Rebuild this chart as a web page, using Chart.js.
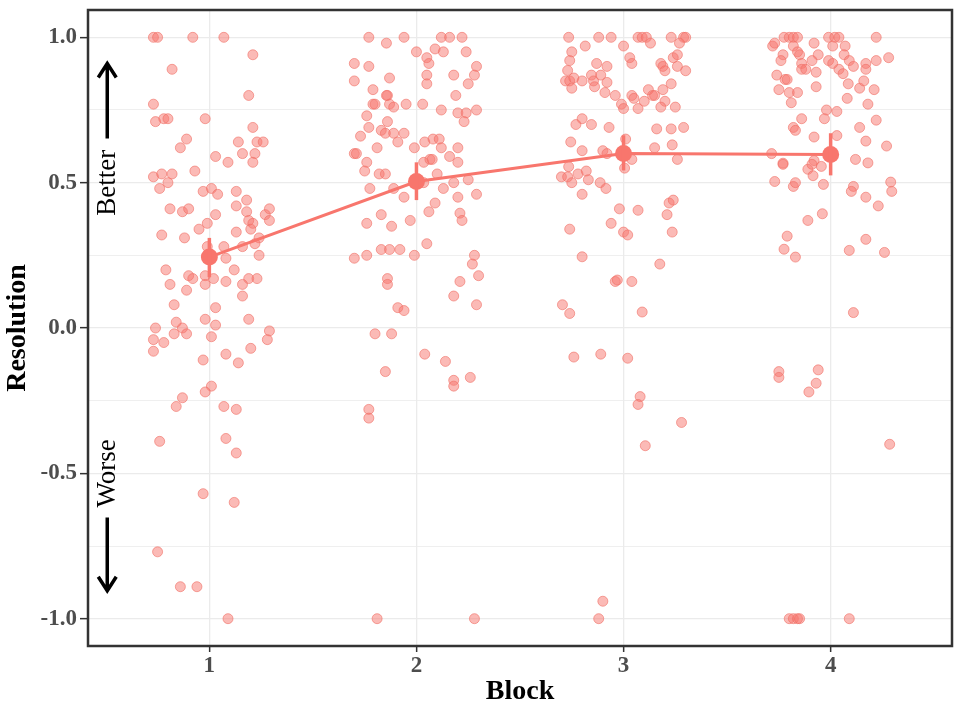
<!DOCTYPE html>
<html>
<head>
<meta charset="utf-8">
<script src="https://cdn.jsdelivr.net/npm/chart.js@4/dist/chart.umd.min.js"></script>
<style>
  body { margin: 0; background: #fff; }
  #wrap { width: 965px; height: 707px; }
</style>
</head>
<body>
<div id="wrap"><canvas id="grafico"></canvas></div>
<script>
// summary per block
let blocks   = [1, 2, 3, 4];
let means    = [0.244, 0.504, 0.600, 0.597];
let lowerCI  = [0.175, 0.440, 0.542, 0.525];
let upperCI  = [0.310, 0.570, 0.663, 0.670];

let xTicks = [1, 2, 3, 4];
let yTicks = [-1, -0.75, -0.5, -0.25, 0, 0.25, 0.5, 0.75, 1];

// jittered raw responses, [x, y]
let block1 = [[0.73,1.0],[0.75,1.0],[0.92,1.0],[1.07,1.0],[1.21,0.94],[0.82,0.89],[1.19,0.80],[0.73,0.77],[0.74,0.71],[0.78,0.72],[0.80,0.72],[0.98,0.72],[1.21,0.69],[0.89,0.65],[0.86,0.62],[1.14,0.64],[1.23,0.64],[1.26,0.64],[1.03,0.59],[1.09,0.57],[1.16,0.60],[1.22,0.60],[1.21,0.57],[0.93,0.54],[0.73,0.52],[0.77,0.53],[0.82,0.53],[0.76,0.48],[0.80,0.50],[0.97,0.47],[1.01,0.48],[1.04,0.46],[1.13,0.47],[1.18,0.44],[0.81,0.41],[0.87,0.40],[0.90,0.41],[1.03,0.39],[1.13,0.42],[1.18,0.40],[1.19,0.37],[1.21,0.36],[1.27,0.39],[1.29,0.41],[1.29,0.37],[1.20,0.34],[0.77,0.32],[0.88,0.31],[0.95,0.34],[0.99,0.36],[1.13,0.33],[1.24,0.31],[0.99,0.28],[1.07,0.28],[1.16,0.28],[1.22,0.29],[1.24,0.25],[1.08,0.24],[0.79,0.20],[1.12,0.20],[0.90,0.18],[0.92,0.17],[0.98,0.18],[0.98,0.15],[1.02,0.17],[0.81,0.15],[1.08,0.16],[1.16,0.15],[1.19,0.17],[1.23,0.17],[0.89,0.13],[1.16,0.11],[0.83,0.08],[1.03,0.07],[0.98,0.03],[1.19,0.03],[0.74,0.00],[0.84,0.02],[0.87,0.00],[0.89,-0.02],[1.03,0.01],[0.83,-0.02],[1.29,-0.01],[1.28,-0.04],[0.73,-0.04],[0.78,-0.05],[1.01,-0.03],[0.73,-0.08],[0.97,-0.11],[1.08,-0.09],[1.14,-0.12],[1.20,-0.07],[1.01,-0.20],[0.98,-0.22],[0.87,-0.24],[0.84,-0.27],[1.07,-0.27],[1.13,-0.28],[0.76,-0.39],[1.08,-0.38],[1.13,-0.43],[0.97,-0.57],[1.12,-0.60],[0.75,-0.77],[0.86,-0.89],[0.94,-0.89],[1.09,-1.0]];

let block2 = [[1.77,1.0],[1.855,0.98],[1.94,1.0],[2.12,1.0],[2.16,1.0],[2.22,1.0],[2.00,0.95],[2.09,0.96],[2.13,0.95],[2.05,0.93],[2.06,0.91],[2.24,0.95],[1.70,0.91],[1.77,0.90],[2.29,0.90],[1.70,0.85],[1.87,0.86],[2.05,0.87],[2.05,0.84],[2.18,0.87],[2.28,0.87],[2.25,0.84],[1.79,0.82],[1.86,0.80],[1.855,0.80],[1.87,0.77],[1.79,0.77],[1.80,0.77],[1.89,0.76],[1.95,0.77],[2.03,0.77],[2.19,0.80],[2.12,0.75],[2.20,0.74],[2.24,0.74],[2.23,0.71],[2.29,0.75],[1.76,0.73],[1.86,0.71],[1.77,0.69],[1.83,0.68],[1.85,0.67],[1.89,0.67],[1.94,0.67],[1.91,0.64],[1.73,0.66],[1.81,0.62],[1.99,0.62],[2.04,0.64],[2.08,0.65],[2.11,0.65],[2.12,0.62],[2.20,0.62],[1.70,0.60],[1.71,0.60],[2.16,0.59],[2.20,0.57],[1.76,0.57],[1.75,0.54],[1.82,0.53],[1.85,0.53],[2.035,0.57],[2.065,0.58],[2.076,0.58],[2.10,0.53],[2.18,0.50],[2.25,0.51],[1.775,0.48],[1.89,0.48],[1.94,0.45],[2.035,0.50],[2.13,0.48],[2.20,0.45],[2.29,0.46],[2.09,0.43],[2.06,0.40],[1.83,0.39],[2.21,0.395],[2.22,0.37],[1.76,0.36],[1.88,0.35],[1.97,0.37],[2.05,0.29],[1.70,0.24],[1.76,0.25],[1.83,0.27],[1.87,0.27],[1.92,0.27],[1.99,0.25],[2.28,0.25],[2.27,0.22],[2.30,0.18],[1.86,0.17],[1.86,0.15],[2.21,0.16],[2.18,0.11],[2.29,0.08],[1.91,0.07],[1.94,0.06],[1.80,-0.02],[1.88,-0.02],[2.04,-0.09],[2.14,-0.115],[1.85,-0.15],[2.18,-0.18],[2.18,-0.20],[2.26,-0.17],[1.77,-0.28],[1.77,-0.31],[1.81,-1.0],[2.28,-1.0]];

let block3 = [[2.735,1.0],[2.88,1.0],[2.94,1.0],[3.07,1.0],[3.09,1.0],[3.11,1.0],[3.23,1.0],[3.29,1.0],[3.30,1.0],[2.815,0.97],[3.00,0.97],[3.13,0.98],[3.27,0.98],[2.75,0.95],[2.74,0.92],[3.03,0.93],[3.04,0.91],[3.18,0.91],[3.24,0.93],[3.26,0.94],[2.87,0.91],[2.92,0.90],[3.19,0.90],[3.20,0.885],[3.26,0.90],[3.30,0.885],[2.73,0.886],[2.72,0.85],[2.74,0.85],[2.76,0.86],[2.80,0.85],[2.845,0.87],[2.855,0.85],[2.89,0.87],[2.75,0.825],[2.86,0.83],[2.92,0.845],[3.23,0.84],[3.19,0.82],[2.91,0.81],[2.96,0.80],[3.04,0.80],[3.05,0.79],[3.12,0.82],[3.14,0.80],[3.15,0.80],[3.10,0.78],[3.20,0.78],[3.18,0.76],[2.99,0.77],[3.00,0.755],[3.07,0.755],[3.25,0.76],[2.77,0.70],[2.80,0.72],[2.845,0.70],[2.93,0.69],[3.16,0.685],[3.23,0.685],[3.29,0.69],[2.745,0.64],[2.80,0.61],[2.90,0.61],[2.92,0.60],[3.01,0.65],[3.04,0.58],[3.15,0.62],[3.235,0.63],[3.26,0.58],[3.005,0.55],[2.735,0.555],[2.70,0.52],[2.73,0.52],[2.78,0.53],[2.82,0.54],[2.83,0.51],[2.75,0.50],[2.887,0.50],[2.915,0.48],[2.80,0.46],[2.98,0.41],[3.07,0.405],[3.22,0.43],[3.24,0.44],[3.21,0.39],[2.94,0.36],[2.74,0.34],[3.00,0.33],[3.02,0.32],[3.235,0.33],[2.80,0.245],[3.175,0.22],[2.96,0.16],[2.97,0.165],[3.04,0.16],[2.705,0.08],[2.74,0.05],[3.09,0.055],[2.76,-0.10],[2.89,-0.09],[3.02,-0.104],[3.08,-0.236],[3.07,-0.263],[3.28,-0.325],[3.105,-0.405],[2.90,-0.94],[2.88,-1.0]];

let block4 = [[3.72,0.97],[3.73,0.98],[3.775,1.0],[3.80,1.0],[3.82,1.0],[3.84,1.0],[3.99,1.0],[4.02,1.0],[4.04,1.0],[4.22,1.0],[3.82,0.97],[3.92,0.98],[4.01,0.97],[4.07,0.97],[3.77,0.94],[3.76,0.92],[3.84,0.95],[3.85,0.94],[3.94,0.94],[4.065,0.94],[4.28,0.93],[3.86,0.91],[3.91,0.92],[3.99,0.92],[4.01,0.91],[4.09,0.92],[4.11,0.90],[4.17,0.91],[4.22,0.92],[3.86,0.89],[3.88,0.89],[3.93,0.88],[4.04,0.89],[4.06,0.875],[4.17,0.89],[3.74,0.87],[3.78,0.855],[3.79,0.855],[3.75,0.82],[3.80,0.81],[3.84,0.81],[3.81,0.775],[3.93,0.83],[4.085,0.84],[4.14,0.825],[4.16,0.85],[4.21,0.82],[4.08,0.79],[4.18,0.77],[3.98,0.75],[4.03,0.745],[3.97,0.72],[3.86,0.72],[3.82,0.69],[3.83,0.68],[4.22,0.715],[4.14,0.69],[3.92,0.657],[4.03,0.662],[4.17,0.643],[4.27,0.626],[3.715,0.60],[3.77,0.567],[3.77,0.563],[3.92,0.576],[4.12,0.58],[4.18,0.568],[3.89,0.546],[3.955,0.556],[3.91,0.563],[3.915,0.524],[3.73,0.504],[3.82,0.487],[3.83,0.50],[3.965,0.494],[4.11,0.487],[4.10,0.47],[4.29,0.502],[4.295,0.47],[4.17,0.45],[4.23,0.42],[3.96,0.393],[3.89,0.37],[3.79,0.316],[3.775,0.271],[3.83,0.244],[4.17,0.305],[4.09,0.267],[4.26,0.26],[4.11,0.053],[3.75,-0.15],[3.75,-0.17],[3.94,-0.144],[3.93,-0.19],[3.895,-0.22],[4.285,-0.40],[3.80,-1.0],[3.82,-1.0],[3.84,-1.0],[3.85,-1.0],[4.09,-1.0]];

let salmao = '#F8766D';
let serif = "'Liberation Serif', 'DejaVu Serif', serif";

let toXY = arr => arr.map(p => ({ x: p[0], y: p[1] }));
let ehMaior = v => Math.abs(v * 2 - Math.round(v * 2)) < 1e-9;

// error bars through the scales
let barrasErro = {
  id: 'barrasErro',
  afterDatasetsDraw(chart) {
    let { ctx, scales: { x, y } } = chart;
    ctx.save();
    ctx.strokeStyle = salmao;
    ctx.lineWidth = 3.5;
    blocks.forEach((b, i) => {
      ctx.beginPath();
      ctx.moveTo(x.getPixelForValue(b), y.getPixelForValue(lowerCI[i]));
      ctx.lineTo(x.getPixelForValue(b), y.getPixelForValue(upperCI[i]));
      ctx.stroke();
    });
    ctx.restore();
  }
};

// panel border + Better / Worse arrows
let moldura = {
  id: 'moldura',
  afterDraw(chart) {
    let { ctx, chartArea: a, scales: { x, y } } = chart;
    ctx.save();
    ctx.strokeStyle = '#333';
    ctx.lineWidth = 2.5;
    ctx.strokeRect(a.left, a.top, a.right - a.left, a.bottom - a.top);

    let px = x.getPixelForValue(0.507);
    let seta = (de, ate) => {
      let y0 = y.getPixelForValue(de), y1 = y.getPixelForValue(ate);
      let dir = y1 < y0 ? 1 : -1;
      ctx.strokeStyle = '#000';
      ctx.lineWidth = 3.5;
      ctx.beginPath();
      ctx.moveTo(px, y0);
      ctx.lineTo(px, y1);
      ctx.moveTo(px - 9, y1 + dir * 14);
      ctx.lineTo(px, y1);
      ctx.lineTo(px + 9, y1 + dir * 14);
      ctx.stroke();
    };
    seta(0.652, 0.91);
    seta(-0.652, -0.904);

    let texto = (t, v) => {
      ctx.save();
      ctx.translate(px, y.getPixelForValue(v));
      ctx.rotate(-Math.PI / 2);
      ctx.fillStyle = '#000';
      ctx.font = '27px ' + serif;
      ctx.textAlign = 'center';
      ctx.textBaseline = 'middle';
      ctx.fillText(t, 0, 1);
      ctx.restore();
    };
    texto('Better', 0.5);
    texto('Worse', -0.5);
    ctx.restore();
  }
};

let pontos = (arr) => ({
  type: 'scatter',
  data: toXY(arr),
  pointRadius: 5,
  pointHoverRadius: 5,
  backgroundColor: 'rgba(248,118,109,0.5)',
  borderColor: 'rgba(240,110,100,0.6)',
  borderWidth: 1
});

let ctx = document.getElementById('grafico').getContext('2d');

let meuGrafico = new Chart(ctx, {
  type: 'scatter',
  data: {
    datasets: [
      {
        type: 'line',
        data: blocks.map((b, i) => ({ x: b, y: means[i] })),
        borderColor: salmao,
        backgroundColor: salmao,
        borderWidth: 3,
        pointRadius: 8.5,
        pointHoverRadius: 8.5,
        pointBorderWidth: 0,
        tension: 0
      },
      pontos(block1),
      pontos(block2),
      pontos(block3),
      pontos(block4)
    ]
  },
  options: {
    responsive: true,
    maintainAspectRatio: false,
    animation: false,
    layout: { padding: { left: 0, right: 13, top: 10, bottom: 0 } },
    plugins: {
      legend: { display: false },
      tooltip: { enabled: false }
    },
    scales: {
      x: {
        type: 'linear',
        min: 0.414,
        max: 4.586,
        afterBuildTicks: s => { s.ticks = xTicks.map(v => ({ value: v })); },
        afterFit: s => { s.height = 61; s.paddingLeft = 0; s.paddingRight = 0; },
        border: { display: false },
        grid: { color: '#ebebeb', lineWidth: 1.3, tickColor: '#333', tickLength: 6, tickWidth: 1.5 },
        ticks: {
          autoSkip: false,
          maxRotation: 0,
          padding: 0,
          color: '#4d4d4d',
          font: { family: serif, size: 23, weight: 'bold' },
          callback: v => String(v)
        },
        title: {
          display: true,
          text: 'Block',
          color: '#000',
          font: { family: serif, size: 28, weight: 'bold' },
          padding: { top: 0, bottom: -2 }
        }
      },
      y: {
        min: -1.094,
        max: 1.094,
        afterBuildTicks: s => { s.ticks = yTicks.map(v => ({ value: v })); },
        afterFit: s => { s.width = 88; s.paddingTop = 0; s.paddingBottom = 0; },
        border: { display: false },
        grid: {
          color: '#ebebeb',
          lineWidth: c => ehMaior(c.tick.value) ? 1.3 : 0.8,
          tickColor: c => ehMaior(c.tick.value) ? '#333' : 'rgba(0,0,0,0)',
          tickLength: 8,
          tickWidth: 1.5
        },
        ticks: {
          autoSkip: false,
          padding: 3,
          color: '#4d4d4d',
          font: { family: serif, size: 23, weight: 'bold' },
          callback: v => ehMaior(v) ? v.toFixed(1) : ''
        },
        title: {
          display: true,
          text: 'Resolution',
          color: '#000',
          font: { family: serif, size: 28, weight: 'bold' },
          padding: { top: 1, bottom: 0 }
        }
      }
    }
  },
  plugins: [barrasErro, moldura]
});
</script>
</body>
</html>
